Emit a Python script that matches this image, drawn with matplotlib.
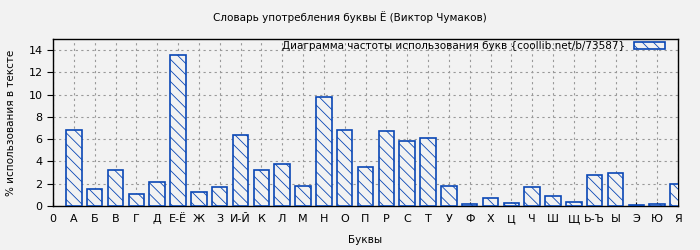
import numpy as np
import matplotlib.pyplot as plt

letters = ['А', 'Б', 'В', 'Г', 'Д', 'Е-Ё', 'Ж', 'З', 'И-Й', 'К', 'Л', 'М', 'Н', 'О', 'П',
           'Р', 'С', 'Т', 'У', 'Ф', 'Х', 'Ц', 'Ч', 'Ш', 'Щ', 'Ь-Ъ', 'Ы', 'Э', 'Ю', 'Я']
percent = [6.8, 1.5, 3.2, 1.05, 2.2, 13.6, 1.3, 1.7, 6.4, 3.2, 3.8, 1.8, 9.75, 6.8, 3.5,
           6.7, 5.8, 6.1, 1.8, 0.15, 0.7, 0.25, 1.7, 0.87, 0.33, 2.75, 3.0, 0.06, 0.15, 2.0]
tick_labels = ['0'] + letters

plt.rcParams['hatch.color'] = '#0a47b5'
plt.rcParams['hatch.linewidth'] = 0.6

fig = plt.figure(figsize=(7, 2.5), dpi=100, facecolor='#f2f2f2')
ax = fig.add_axes([53/700, 44/250, 625/700, 167/250])
ax.set_facecolor('#f2f2f2')

x = np.arange(1, len(letters) + 1)
ax.bar(x, percent, width=0.75, color='#f2f2f2', edgecolor='#0a47b5', linewidth=1.2,
       hatch='\\\\\\', label='Диаграмма частоты использования букв {coollib.net/b/73587}', zorder=3)

ax.set_xlim(0, 30)
ax.set_ylim(0, 15)
ax.set_xticks(range(0, 31))
ax.set_xticklabels(tick_labels, fontsize=8)
ax.set_yticks(range(0, 15, 2))
ax.tick_params(axis='y', labelsize=8, direction='out', length=4)
ax.tick_params(axis='x', direction='in', length=3, pad=6)
ax.grid(True, color='#999999', linestyle=(0, (2, 3)), linewidth=0.8, zorder=0)
for s in ax.spines.values():
    s.set_linewidth(1.0)

ax.set_xlabel('Буквы', fontsize=7.5, labelpad=8)
ax.set_ylabel('% использования в тексте', fontsize=7.5, labelpad=9)
fig.suptitle('Словарь употребления буквы Ё (Виктор Чумаков)', fontsize=7.5, y=0.955)
ax.legend(loc='upper right', bbox_to_anchor=(1 - 12/625, 1 - 1/167), frameon=False, fontsize=7.5,
          handlelength=3.0, handleheight=0.6, borderaxespad=0.0, markerfirst=False,
          handletextpad=0.8, borderpad=0.1)

fig.savefig('out.png', dpi=100, facecolor='#f2f2f2')
